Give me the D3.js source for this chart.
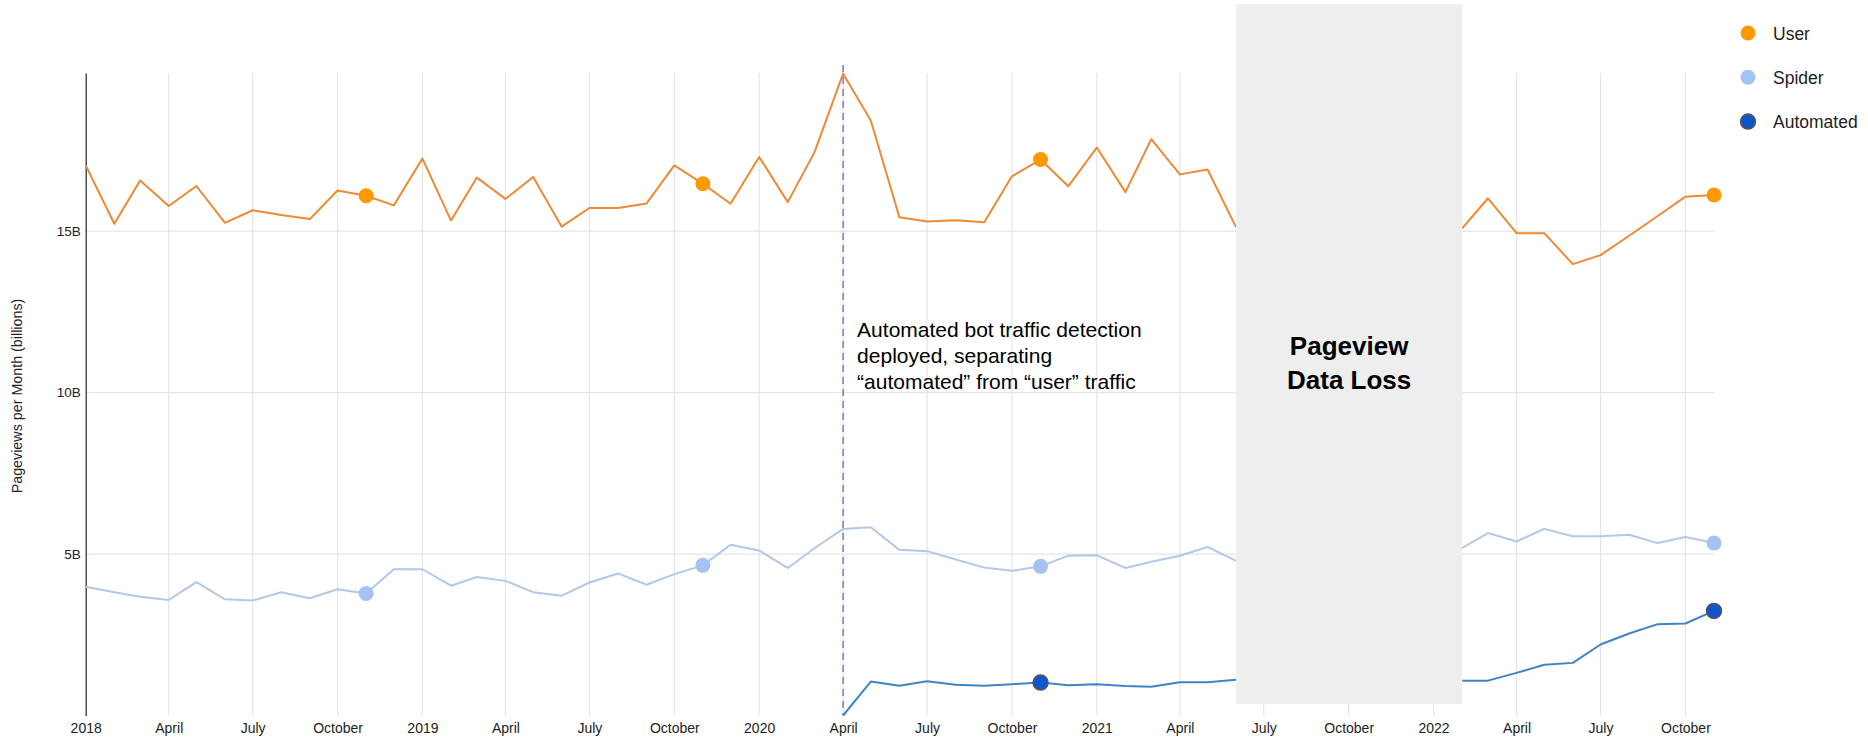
<!DOCTYPE html>
<html>
<head>
<meta charset="utf-8">
<script src="https://cdn.jsdelivr.net/npm/d3@7"></script>
<style>
  body { margin: 0; background: #fff; }
  svg { display: block; font-family: "Liberation Sans", Arial, sans-serif; }
</style>
</head>
<body>
<script>
// mois (Jan 2018 -> Nov 2022)
let mois = [
  "2018-01","2018-02","2018-03","2018-04","2018-05","2018-06","2018-07","2018-08","2018-09","2018-10","2018-11","2018-12",
  "2019-01","2019-02","2019-03","2019-04","2019-05","2019-06","2019-07","2019-08","2019-09","2019-10","2019-11","2019-12",
  "2020-01","2020-02","2020-03","2020-04","2020-05","2020-06","2020-07","2020-08","2020-09","2020-10","2020-11","2020-12",
  "2021-01","2021-02","2021-03","2021-04","2021-05","2021-06","2021-07","2021-08","2021-09","2021-10","2021-11","2021-12",
  "2022-01","2022-02","2022-03","2022-04","2022-05","2022-06","2022-07","2022-08","2022-09","2022-10","2022-11"
]

// pageviews en milliards, null = pas de donnees
let user = [
  17.04, 15.23, 16.57, 15.78, 16.40, 15.26, 15.65, 15.50, 15.38, 16.26, 16.10, 15.80,
  17.25, 15.33, 16.66, 16.00, 16.68, 15.14, 15.72, 15.72, 15.86, 17.04, 16.47, 15.85,
  17.30, 15.90, 17.45, 19.88, 18.43, 15.43, 15.30, 15.34, 15.28, 16.70, 17.22, 16.39,
  17.59, 16.21, 17.85, 16.76, 16.91, 15.12, null, null, null, null, null, null,
  null, 15.09, 16.02, 14.94, 14.94, 13.98, 14.26, 14.86, 15.47, 16.07, 16.12
]
let spider = [
  3.99, 3.82, 3.68, 3.58, 4.13, 3.60, 3.56, 3.82, 3.63, 3.91, 3.78, 4.53,
  4.53, 4.02, 4.29, 4.17, 3.82, 3.71, 4.12, 4.40, 4.05, 4.38, 4.65, 5.29,
  5.11, 4.57, 5.18, 5.78, 5.83, 5.13, 5.09, 4.83, 4.58, 4.48, 4.62, 4.95,
  4.96, 4.57, 4.76, 4.95, 5.22, 4.79, null, null, null, null, null, null,
  null, 5.19, 5.65, 5.39, 5.78, 5.55, 5.55, 5.60, 5.34, 5.53, 5.34
]
let automated = [
  null, null, null, null, null, null, null, null, null, null, null, null,
  null, null, null, null, null, null, null, null, null, null, null, null,
  null, null, null, 0.00, 1.05, 0.92, 1.06, 0.95, 0.92, 0.97, 1.02, 0.94,
  0.97, 0.91, 0.89, 1.03, 1.03, 1.11, null, null, null, null, null, null,
  null, 1.08, 1.08, 1.32, 1.57, 1.63, 2.20, 2.54, 2.83, 2.85, 3.24
]

let series = ["User", "Spider", "Automated"]
let couleursLigne = ["#ec8a35", "#b3c8e8", "#3d85c6"]
let couleursPoint = ["#ff9900", "#a4c2f4", "#1155cc"]
let moisPoints = [["2018-11", "2019-11", "2020-11", "2022-11"], ["2018-11", "2019-11", "2020-11", "2022-11"], ["2020-11", "2022-11"]]

let yTicks = [5, 10, 15]
let dateDetection = "2020-04"
let debutPerte = "2021-06"
let finPerte = "2022-02"
let texteDetection = ["Automated bot traffic detection", "deployed, separating", "\u201Cautomated\u201D from \u201Cuser\u201D traffic"]
let textePerte = ["Pageview", "Data Loss"]
let titreY = "Pageviews per Month (billions)"

let valeurs = [user, spider, automated]
let parseMois = d3.timeParse("%Y-%m")
let dates = mois.map(parseMois)

let width = 1868, height = 737
let svg = d3.select("body").append("svg")
    .attr("width", width)
    .attr("height", height)

let x = d3.scaleTime()
    .domain([dates[0], dates[dates.length - 1]])
    .range([85.7, 1714])
let y = d3.scaleLinear()
    .domain([0, 19.9])
    .range([715.5, 73])

// grille verticale (trimestres)
let trimestres = d3.timeMonth.every(3).range(dates[0], d3.timeMonth.offset(dates[dates.length - 1], 1))
svg.append("g")
    .selectAll("line")
    .data(trimestres.slice(1))
    .enter()
    .append("line")
    .attr("x1", d => x(d)).attr("x2", d => x(d))
    .attr("y1", y(19.9)).attr("y2", y(0))
    .attr("stroke", "#e5e5e5")
    .attr("stroke-width", 1.2)

// grille horizontale
svg.append("g")
    .selectAll("line")
    .data(yTicks)
    .enter()
    .append("line")
    .attr("x1", x.range()[0]).attr("x2", x.range()[1])
    .attr("y1", d => y(d)).attr("y2", d => y(d))
    .attr("stroke", "#e5e5e5")
    .attr("stroke-width", 1.2)

// axe X
let formatMois = d => d.getMonth() == 0 ? d3.timeFormat("%Y")(d) : d3.timeFormat("%B")(d)
let xAxis = svg.append("g")
    .attr("transform", "translate(0," + 715 + ")")
    .call(d3.axisBottom(x).tickValues(trimestres).tickFormat(formatMois).tickSize(0).tickPadding(8))
xAxis.select(".domain").remove()
xAxis.selectAll("text").attr("font-size", 14).attr("fill", "#222").attr("font-family", "Liberation Sans, Arial, sans-serif")

// axe Y
let yAxis = svg.append("g")
    .attr("transform", "translate(" + 85.7 + ",0)")
    .call(d3.axisLeft(y).tickValues(yTicks).tickFormat(d => d + "B").tickSize(0).tickPadding(5))
yAxis.select(".domain").attr("stroke", "#333").attr("stroke-width", 1.3)
yAxis.selectAll("text").attr("font-size", 13.5).attr("fill", "#222").attr("font-family", "Liberation Sans, Arial, sans-serif")

svg.append("text")
    .attr("transform", "translate(22,396) rotate(-90)")
    .attr("text-anchor", "middle")
    .attr("font-size", 14.3)
    .attr("fill", "#222")
    .text(titreY)

// lignes
let ligne = d3.line()
    .defined(d => d.v != null)
    .x(d => x(d.date))
    .y(d => y(d.v))

let ordre = [1, 0, 2]
ordre.forEach(i => {
    let pts = dates.map((d, j) => ({ date: d, v: valeurs[i][j] }))
    svg.append("path")
        .datum(pts)
        .attr("fill", "none")
        .attr("stroke", couleursLigne[i])
        .attr("stroke-width", 2)
        .attr("stroke-linejoin", "round")
        .attr("d", ligne)
})

// ligne pointillee detection des bots
svg.append("line")
    .attr("x1", x(parseMois(dateDetection))).attr("x2", x(parseMois(dateDetection)))
    .attr("y1", 65).attr("y2", y(0))
    .attr("stroke", "#8e7cc3")
    .attr("stroke-width", 1.6)
    .attr("stroke-dasharray", "7,5")

// points
ordre.forEach(i => {
    svg.append("g")
        .selectAll("circle")
        .data(moisPoints[i])
        .enter()
        .append("circle")
        .attr("cx", d => x(parseMois(d)))
        .attr("cy", d => y(valeurs[i][mois.indexOf(d)]))
        .attr("r", 7.5)
        .attr("fill", couleursPoint[i])
        .attr("stroke", i == 2 ? "#555" : "none")
        .attr("stroke-width", 1.5)
})

// zone perte de donnees
let x0 = x(parseMois(debutPerte)), x1 = x(parseMois(finPerte))
svg.append("rect")
    .attr("x", x0).attr("y", 4)
    .attr("width", x1 - x0).attr("height", 700)
    .attr("fill", "#eeeeee")
svg.append("g")
    .selectAll("text")
    .data(textePerte)
    .enter()
    .append("text")
    .attr("x", (x0 + x1) / 2)
    .attr("y", (d, i) => 355 + i * 34)
    .attr("text-anchor", "middle")
    .attr("font-size", 26)
    .attr("font-weight", "bold")
    .attr("fill", "#000")
    .text(d => d)

// annotation
svg.append("g")
    .selectAll("text")
    .data(texteDetection)
    .enter()
    .append("text")
    .attr("x", x(parseMois(dateDetection)) + 14)
    .attr("y", (d, i) => 337 + i * 26)
    .attr("font-size", 21)
    .attr("fill", "#000")
    .text(d => d)

// legende
let legende = svg.append("g").attr("transform", "translate(1748,33)")
series.forEach((s, i) => {
    legende.append("circle")
        .attr("cx", 0).attr("cy", i * 44.3)
        .attr("r", 7.5)
        .attr("fill", couleursPoint[i])
        .attr("stroke", i == 2 ? "#555" : "none")
        .attr("stroke-width", 1.5)
    legende.append("text")
        .attr("x", 25).attr("y", i * 44.3 + 6.5)
        .attr("font-size", 17.5)
        .attr("fill", "#222")
        .text(s)
})
</script>
</body>
</html>
